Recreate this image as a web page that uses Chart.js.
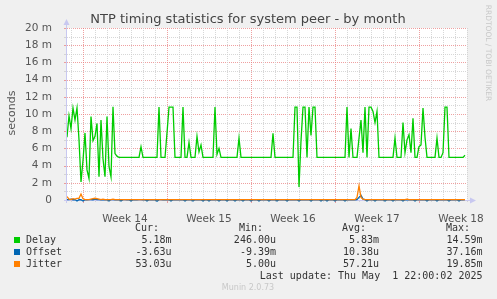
<!DOCTYPE html>
<html>
<head>
<meta charset="utf-8">
<script src="https://cdn.jsdelivr.net/npm/chart.js@4.4.1/dist/chart.umd.min.js"></script>
<style>
  html, body { margin: 0; padding: 0; background: #f0f0f0; }
  #chart { display: block; }
</style>
</head>
<body>
<canvas id="chart" width="497" height="299"></canvas>
<script>
// one sample every 4 hours, values in milliseconds ("m")
const STEP_HOURS = 4;

const delay = [
  7.3, 9.8, 8.3, 10.7, 9.3, 10.7, 7.0, 2.1, 4.6, 7.8,
  3.5, 2.5, 9.7, 6.9, 7.4, 8.9, 2.7, 9.3, 4.8, 2.7,
  9.7, 3.9, 2.7, 10.85, 5.4, 5.1, 4.95, 4.95, 4.95, 4.95,
  4.95, 4.95, 4.95, 4.95, 4.95, 4.95, 4.95, 6.2, 4.95, 4.95,
  4.95, 4.95, 4.95, 4.95, 4.95, 4.95, 10.8, 4.95, 4.95, 4.95,
  7.8, 10.8, 10.8, 10.8, 4.95, 4.95, 4.95, 4.95, 10.8, 4.95,
  4.95, 6.7, 4.95, 4.95, 4.95, 7.4, 5.6, 6.4, 4.95, 4.95,
  4.95, 4.95, 4.95, 4.95, 10.8, 5.3, 6.0, 4.95, 4.95, 4.95,
  4.95, 4.95, 4.95, 4.95, 4.95, 4.95, 7.2, 4.95, 4.95, 4.95,
  4.95, 4.95, 4.95, 4.95, 4.95, 4.95, 4.95, 4.95, 4.95, 4.95,
  4.95, 4.95, 4.95, 7.75, 4.95, 4.95, 4.95, 4.95, 4.95, 4.95,
  4.95, 4.95, 4.95, 4.95, 10.8, 10.8, 1.5, 6.9, 10.8, 10.8,
  4.95, 10.8, 7.5, 10.8, 10.8, 4.95, 4.95, 4.95, 4.95, 4.95,
  4.95, 4.95, 4.95, 4.95, 4.95, 4.95, 4.95, 4.95, 4.95, 4.95,
  10.8, 4.95, 8.3, 4.95, 4.95, 4.95, 7.2, 9.3, 5.5, 10.8,
  4.95, 10.8, 10.8, 10.3, 9.0, 10.3, 4.95, 4.95, 4.95, 4.95,
  4.95, 4.95, 4.95, 4.95, 7.2, 4.95, 4.95, 4.95, 9.0, 5.5,
  7.0, 7.6, 5.5, 9.5, 4.95, 4.95, 6.2, 6.4, 10.7, 7.3,
  4.95, 4.95, 4.95, 4.95, 4.95, 7.2, 4.95, 4.95, 5.5, 10.8,
  10.8, 4.95, 4.95, 4.95, 4.95, 4.95, 4.95, 4.95, 4.95, 5.2
];

const offset = [
  0.05, 0.04, 0.1, 0.03, 0.05, -0.12, 0.04, 0.03, -0.12, 0.04,
  0.03, 0.05, 0.04, 0.03, 0.1, 0.04, 0.05, 0.03, 0.04, 0.03,
  0.04, -0.12, 0.05, 0.04, 0.03, 0.04, 0.03, -0.12, 0.04, 0.05,
  0.03, 0.04, -0.12, 0.03, 0.04, 0.03, 0.04, 0.05, 0.03, 0.04,
  -0.12, 0.04, 0.03, 0.04, 0.03, -0.15, 0.04, 0.05, 0.03, 0.04,
  0.03, 0.04, -0.12, 0.04, 0.03, 0.04, 0.03, 0.04, 0.03, -0.12,
  0.04, 0.03, 0.04, -0.12, 0.03, 0.04, 0.03, 0.04, -0.12, 0.04,
  0.03, -0.12, 0.04, 0.03, 0.04, 0.03, -0.12, 0.04, 0.03, 0.04,
  -0.12, 0.03, 0.04, 0.03, -0.12, 0.04, 0.03, 0.04, -0.12, 0.03,
  0.04, 0.03, -0.12, 0.04, 0.03, 0.04, -0.12, 0.03, 0.04, 0.03,
  0.04, -0.12, 0.03, 0.04, 0.03, -0.12, 0.04, 0.03, 0.04, 0.03,
  -0.12, 0.04, 0.03, 0.04, 0.03, 0.04, -0.12, 0.03, 0.04, 0.03,
  0.04, 0.03, -0.12, 0.04, 0.03, 0.04, 0.03, -0.12, 0.04, 0.03,
  -0.12, 0.04, 0.03, 0.04, -0.12, 0.03, 0.04, 0.03, 0.04, -0.12,
  0.03, 0.04, 0.03, 0.04, 0.03, 0.05, 0.3, 0.55, 0.1, 0.04,
  -0.12, 0.03, 0.04, 0.03, -0.12, 0.04, 0.03, 0.04, 0.03, -0.12,
  0.04, 0.03, 0.04, -0.12, 0.03, 0.04, 0.03, 0.04, -0.12, 0.03,
  0.04, 0.03, 0.04, 0.03, -0.12, 0.04, 0.03, 0.04, 0.03, 0.04,
  -0.12, 0.03, 0.04, 0.03, 0.04, -0.12, 0.03, 0.04, 0.03, 0.04,
  0.03, -0.12, 0.04, 0.03, 0.04, 0.03, -0.12, 0.04, 0.03, 0.04
];

const jitter = [
  0.4, 0.1, 0.05, 0.15, 0.1, 0.2, 0.2, 0.7, 0.15, 0.05,
  0.05, 0.05, 0.1, 0.15, 0.2, 0.15, 0.1, 0.05, 0.1, 0.05,
  0.05, 0.05, 0.05, 0.1, 0.05, 0.05, 0.05, 0.05, 0.05, 0.05,
  0.05, 0.05, 0.05, 0.05, 0.05, 0.05, 0.05, 0.05, 0.05, 0.05,
  0.05, 0.05, 0.05, 0.05, 0.05, 0.05, 0.05, 0.05, 0.05, 0.05,
  0.05, 0.05, 0.05, 0.05, 0.05, 0.05, 0.05, 0.05, 0.05, 0.05,
  0.05, 0.05, 0.05, 0.05, 0.05, 0.05, 0.05, 0.05, 0.05, 0.05,
  0.05, 0.05, 0.05, 0.05, 0.05, 0.05, 0.05, 0.05, 0.05, 0.05,
  0.05, 0.05, 0.05, 0.05, 0.05, 0.05, 0.05, 0.05, 0.05, 0.05,
  0.05, 0.05, 0.05, 0.05, 0.05, 0.05, 0.05, 0.05, 0.05, 0.05,
  0.05, 0.05, 0.05, 0.05, 0.05, 0.05, 0.05, 0.05, 0.05, 0.05,
  0.05, 0.05, 0.05, 0.05, 0.05, 0.05, 0.05, 0.05, 0.05, 0.05,
  0.05, 0.05, 0.05, 0.05, 0.05, 0.05, 0.05, 0.05, 0.05, 0.05,
  0.05, 0.05, 0.05, 0.05, 0.05, 0.05, 0.05, 0.05, 0.05, 0.05,
  0.05, 0.05, 0.05, 0.05, 0.05, 0.3, 1.65, 0.3, 0.1, 0.05,
  0.05, 0.05, 0.05, 0.05, 0.05, 0.05, 0.05, 0.05, 0.05, 0.05,
  0.05, 0.05, 0.05, 0.05, 0.05, 0.05, 0.05, 0.05, 0.05, 0.05,
  0.1, 0.05, 0.05, 0.05, 0.05, 0.05, 0.05, 0.05, 0.05, 0.05,
  0.05, 0.05, 0.05, 0.05, 0.05, 0.05, 0.05, 0.05, 0.05, 0.05,
  0.05, 0.05, 0.05, 0.05, 0.05, 0.05, 0.05, 0.05, 0.05, 0.05
];

// x axis: hours since left edge
const weekLabels = ["Week 14", "Week 15", "Week 16", "Week 17", "Week 18"];
const weekCenters = [116, 284, 452, 620, 788];
const weekStarts = [32, 200, 368, 536, 704];

// legend table
const seriesNames = ["Delay", "Offset", "Jitter"];
const curValues = ["5.18m", "-3.63u", "53.03u"];
const minValues = ["246.00u", "-9.39m", "5.00u"];
const avgValues = ["5.83m", "10.38u", "57.21u"];
const maxValues = ["14.59m", "37.16m", "19.85m"];
const lastUpdate = "Last update: Thu May  1 22:00:02 2025";

const colors = ["#00cc00", "#0066b3", "#ff8000"];
const RED_GRID = "rgba(232,120,120,0.7)";
const GREY_GRID = "rgba(205,205,205,0.8)";
const AXIS = "#c8c8f0";

const toPoints = (arr) => arr.map((v, i) => ({ x: i * STEP_HOURS, y: v }));

const isDayLine = (v) => (v - 8) % 24 === 0;
const isWeekLine = (v) => weekStarts.includes(v);

// rrdtool style dotted grid, axes and texts
const munin = {
  id: "munin",
  beforeDraw(chart) {
    const { ctx, chartArea: a } = chart;
    ctx.save();
    ctx.fillStyle = "#ffffff";
    ctx.fillRect(a.left, a.top, a.right - a.left, a.bottom - a.top);
    ctx.restore();
  },
  beforeDatasetsDraw(chart) {
    const { ctx, chartArea: a, scales } = chart;
    ctx.save();
    ctx.lineWidth = 1;
    // horizontal grid
    scales.y.ticks.forEach((t) => {
      const y = Math.round(scales.y.getPixelForValue(t.value)) + 0.5;
      ctx.strokeStyle = t.value % 2 === 0 ? RED_GRID : GREY_GRID;
      ctx.setLineDash([1, 1]);
      ctx.beginPath();
      ctx.moveTo(a.left, y);
      ctx.lineTo(a.right, y);
      ctx.stroke();
      ctx.setLineDash([]);
      ctx.beginPath();
      ctx.moveTo(a.left - 3, y);
      ctx.lineTo(a.left, y);
      ctx.stroke();
    });
    // vertical grid
    scales.x.ticks.forEach((t) => {
      if (!isDayLine(t.value)) return;
      const x = Math.round(scales.x.getPixelForValue(t.value)) + 0.5;
      ctx.strokeStyle = isWeekLine(t.value) ? RED_GRID : GREY_GRID;
      ctx.setLineDash([1, 1]);
      ctx.beginPath();
      ctx.moveTo(x, a.top);
      ctx.lineTo(x, a.bottom);
      ctx.stroke();
      ctx.setLineDash([]);
      ctx.beginPath();
      ctx.moveTo(x, a.bottom);
      ctx.lineTo(x, a.bottom + (isWeekLine(t.value) ? 3 : 2));
      ctx.stroke();
    });
    // axes with arrows
    ctx.strokeStyle = AXIS;
    ctx.fillStyle = AXIS;
    ctx.beginPath();
    ctx.moveTo(a.left - 0.5, a.bottom + 3);
    ctx.lineTo(a.left - 0.5, a.top - 4);
    ctx.moveTo(a.left - 3, a.bottom + 0.5);
    ctx.lineTo(a.right + 4, a.bottom + 0.5);
    ctx.stroke();
    ctx.beginPath();
    ctx.moveTo(a.left - 0.5, a.top - 9);
    ctx.lineTo(a.left - 3.5, a.top - 3);
    ctx.lineTo(a.left + 2.5, a.top - 3);
    ctx.closePath();
    ctx.fill();
    ctx.beginPath();
    ctx.moveTo(a.right + 9, a.bottom + 0.5);
    ctx.lineTo(a.right + 3, a.bottom - 2.5);
    ctx.lineTo(a.right + 3, a.bottom + 3.5);
    ctx.closePath();
    ctx.fill();
    ctx.restore();
  },
  afterDraw(chart) {
    const ctx = chart.ctx;
    ctx.save();
    // title
    ctx.fillStyle = "#444";
    ctx.font = "13px 'DejaVu Sans'";
    ctx.textAlign = "center";
    ctx.textBaseline = "middle";
    ctx.fillText("NTP timing statistics for system peer - by month", 248, 20);

    // y axis title
    ctx.save();
    ctx.translate(12, 113);
    ctx.rotate(-Math.PI / 2);
    ctx.fillStyle = "#555";
    ctx.font = "11px 'DejaVu Sans'";
    ctx.fillText("seconds", 0, 0);
    ctx.restore();

    // watermark
    ctx.save();
    ctx.translate(488, 53);
    ctx.rotate(Math.PI / 2);
    ctx.fillStyle = "#c8c8c8";
    ctx.font = "7.5px 'DejaVu Sans'";
    ctx.fillText("RRDTOOL / TOBI OETIKER", 0, 0);
    ctx.restore();

    // legend
    ctx.font = "10px 'DejaVu Sans Mono'";
    ctx.fillStyle = "#333";
    ctx.textAlign = "right";
    const cols = [171.5, 276, 379, 482.5];
    const heads = ["Cur:", "Min:", "Avg:", "Max:"];
    const headEnds = [159, 263, 366, 470];
    heads.forEach((h, k) => ctx.fillText(h, headEnds[k], 228));
    seriesNames.forEach((name, r) => {
      const y = 240 + r * 12;
      ctx.fillStyle = colors[r];
      ctx.fillRect(14, y - 3, 6, 6);
      ctx.fillStyle = "#333";
      ctx.textAlign = "left";
      ctx.fillText(name, 26, y);
      ctx.textAlign = "right";
      [curValues, minValues, avgValues, maxValues].forEach((vals, k) => {
        ctx.fillText(vals[r], cols[k], y);
      });
    });
    ctx.fillText(lastUpdate, 482.5, 276);

    ctx.fillStyle = "#c8c8c8";
    ctx.textAlign = "center";
    ctx.font = "8px 'DejaVu Sans'";
    ctx.fillText("Munin 2.0.73", 248, 288);
    ctx.restore();
  }
};

new Chart(document.getElementById("chart"), {
  type: "line",
  data: {
    datasets: [
      { label: "Delay", data: toPoints(delay), borderColor: colors[0], borderWidth: 1.3, order: 2 },
      { label: "Offset", data: toPoints(offset), borderColor: colors[1], borderWidth: 1.3, order: 1,
        clip: { left: 0, top: 0, right: 0, bottom: 4 } },
      { label: "Jitter", data: toPoints(jitter), borderColor: colors[2], borderWidth: 1.3, order: 0,
        clip: { left: 0, top: 0, right: 0, bottom: 4 } }
    ]
  },
  options: {
    responsive: false,
    animation: false,
    events: [],
    layout: { padding: { left: 0, top: 28, right: 30, bottom: 0 } },
    elements: { point: { radius: 0 }, line: { tension: 0 } },
    plugins: { legend: { display: false }, title: { display: false }, tooltip: { enabled: false } },
    scales: {
      x: {
        type: "linear",
        min: 0,
        max: 800,
        afterBuildTicks: (s) => {
          const t = [];
          for (let h = 8; h <= 800; h += 12) t.push({ value: h });
          s.ticks = t;
        },
        afterFit: (s) => { s.height = 99; },
        border: { display: false },
        grid: { display: false },
        ticks: {
          autoSkip: false,
          maxRotation: 0,
          padding: 5,
          color: "#555",
          font: { family: "'DejaVu Sans'", size: 10.5 },
          callback: (v) => {
            const k = weekCenters.indexOf(v);
            return k >= 0 ? weekLabels[k] : "";
          }
        }
      },
      y: {
        type: "linear",
        min: 0,
        max: 20,
        afterFit: (s) => { s.width = 67; },
        border: { display: false },
        grid: { display: false },
        ticks: {
          stepSize: 1,
          autoSkip: false,
          padding: 7,
          color: "#555",
          font: { family: "'DejaVu Sans'", size: 10.5 },
          callback: (v) => v % 2 !== 0 ? "" : (v === 0 ? "0" : v + " m")
        }
      }
    }
  },
  plugins: [munin]
});
</script>
</body>
</html>
